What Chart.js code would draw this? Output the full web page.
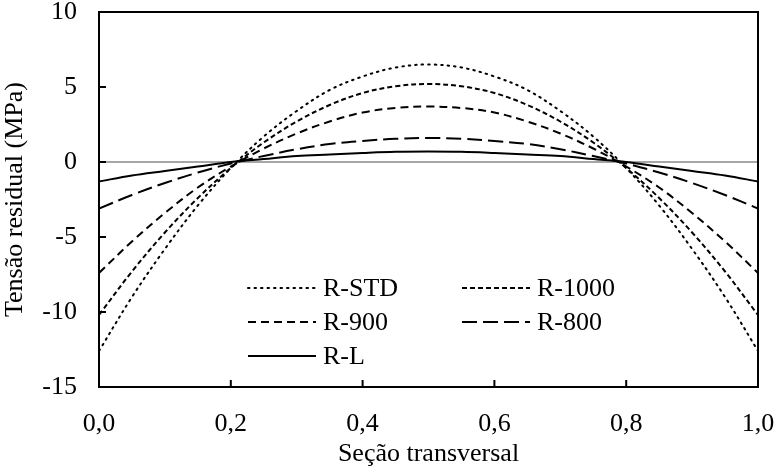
<!DOCTYPE html>
<html>
<head>
<meta charset="utf-8">
<script src="https://cdn.jsdelivr.net/npm/chart.js@4.4.0/dist/chart.umd.min.js"></script>
<style>
  html, body { margin: 0; padding: 0; background: #fff; }
  #wrap { width: 776px; height: 472px; }
</style>
</head>
<body>
<div id="wrap"><canvas id="chart" width="776" height="472"></canvas></div>
<script>
// positions along the cross-section (0..1)
const xs = [0, 0.05, 0.1, 0.15, 0.2, 0.25, 0.3, 0.35, 0.4, 0.45, 0.5,
            0.55, 0.6, 0.65, 0.7, 0.75, 0.8, 0.85, 0.9, 0.95, 1];

// residual stress (MPa)
const rStd  = [-12.6, -9.0, -5.8, -2.9, -0.4, 1.7, 3.4, 4.8, 5.7, 6.3, 6.5,
               6.3, 5.7, 4.8, 3.4, 1.7, -0.4, -2.9, -5.8, -9.0, -12.6];
const r1000 = [-10.2, -7.3, -4.7, -2.4, -0.4, 1.3, 2.7, 3.8, 4.6, 5.05, 5.2,
               5.05, 4.6, 3.8, 2.7, 1.3, -0.4, -2.4, -4.7, -7.3, -10.2];
const r900  = [-7.4, -5.3, -3.4, -1.7, -0.3, 0.9, 1.9, 2.7, 3.3, 3.6, 3.7,
               3.6, 3.3, 2.7, 1.9, 0.9, -0.3, -1.7, -3.4, -5.3, -7.4];
const r800  = [-3.1, -2.2, -1.4, -0.7, -0.1, 0.4, 0.85, 1.2, 1.4, 1.55, 1.6,
               1.55, 1.4, 1.2, 0.85, 0.4, -0.1, -0.7, -1.4, -2.2, -3.1];
const rL    = [-1.3, -0.9, -0.6, -0.3, 0.0, 0.2, 0.4, 0.5, 0.6, 0.68, 0.7,
               0.68, 0.6, 0.5, 0.4, 0.2, 0.0, -0.3, -0.6, -0.9, -1.3];

const seriesNames = ["R-STD", "R-1000", "R-900", "R-800", "R-L"];
const seriesData = [rStd, r1000, r900, r800, rL];
const dashes = [[1.5, 5], [5, 3], [8, 5], [15, 6], []];

const FONT = "'Liberation Serif', 'Times New Roman', serif";
const FS = 26;

function toPoints(values) {
  return values.map((v, i) => ({ x: xs[i], y: v }));
}

const datasets = seriesNames.map((name, i) => ({
  label: name,
  data: toPoints(seriesData[i]),
  borderColor: "#000",
  borderWidth: 2,
  borderDash: dashes[i],
  borderCapStyle: i === 0 ? "round" : "butt",
  pointRadius: 0,
  tension: 0.35,
  fill: false
}));

// frame, inward tick marks and the in-plot legend
const framePlugin = {
  id: "frame",
  afterDraw(c) {
    const ctx = c.ctx;
    const a = c.chartArea;
    ctx.save();
    ctx.strokeStyle = "#000";
    ctx.lineWidth = 2;
    ctx.setLineDash([]);
    ctx.strokeRect(a.left, a.top, a.right - a.left, a.bottom - a.top);

    const ys = c.scales.y, xsScale = c.scales.x;
    ys.ticks.forEach(t => {
      const py = ys.getPixelForValue(t.value);
      ctx.beginPath();
      ctx.moveTo(a.left, py);
      ctx.lineTo(a.left + 7, py);
      ctx.stroke();
    });
    xsScale.ticks.forEach(t => {
      const px = xsScale.getPixelForValue(t.value);
      ctx.beginPath();
      ctx.moveTo(px, a.bottom);
      ctx.lineTo(px, a.bottom - 7);
      ctx.stroke();
    });

    // legend: two columns
    const slots = [
      { x: 248, y: 288 }, { x: 462, y: 288 },
      { x: 248, y: 322 }, { x: 462, y: 322 },
      { x: 248, y: 356 }
    ];
    ctx.font = FS + "px " + FONT;
    ctx.textBaseline = "middle";
    ctx.fillStyle = "#000";
    c.data.datasets.forEach((ds, i) => {
      const s = slots[i];
      ctx.beginPath();
      ctx.setLineDash(ds.borderDash);
      ctx.lineCap = ds.borderCapStyle;
      ctx.moveTo(s.x, s.y);
      ctx.lineTo(s.x + 68, s.y);
      ctx.stroke();
      ctx.setLineDash([]);
      ctx.fillText(ds.label, s.x + 75, s.y + 1);
    });
    ctx.restore();
  }
};

function noPad(s) {
  s.paddingTop = 0;
  s.paddingBottom = 0;
  s.paddingLeft = 0;
  s.paddingRight = 0;
}

new Chart(document.getElementById("chart"), {
  type: "line",
  data: { datasets },
  plugins: [framePlugin],
  options: {
    responsive: false,
    animation: false,
    layout: { padding: { top: 12, right: 18, left: 0, bottom: 0 } },
    plugins: { legend: { display: false }, tooltip: { enabled: false } },
    scales: {
      x: {
        type: "linear",
        min: 0,
        max: 1,
        afterFit(s) { s.height = 85; noPad(s); },
        ticks: {
          stepSize: 0.2,
          padding: 22,
          color: "#000",
          font: { family: FONT, size: FS },
          callback: v => v.toFixed(1).replace(".", ",")
        },
        grid: { display: false, drawTicks: false },
        border: { display: false },
        title: {
          display: true,
          text: "Seção transversal",
          color: "#000",
          font: { family: FONT, size: FS },
          padding: { top: 0, bottom: 2 }
        }
      },
      y: {
        min: -15,
        max: 10,
        afterFit(s) { s.width = 99; noPad(s); },
        ticks: {
          stepSize: 5,
          padding: 22,
          color: "#000",
          font: { family: FONT, size: FS }
        },
        grid: {
          drawTicks: false,
          lineWidth: 2,
          color: c => (c.tick && c.tick.value === 0) ? "#a6a6a6" : "rgba(0,0,0,0)"
        },
        border: { display: false },
        title: {
          display: true,
          text: "Tensão residual (MPa)",
          color: "#000",
          font: { family: FONT, size: FS },
          padding: { top: 0, bottom: 0 }
        }
      }
    }
  }
});
</script>
</body>
</html>
